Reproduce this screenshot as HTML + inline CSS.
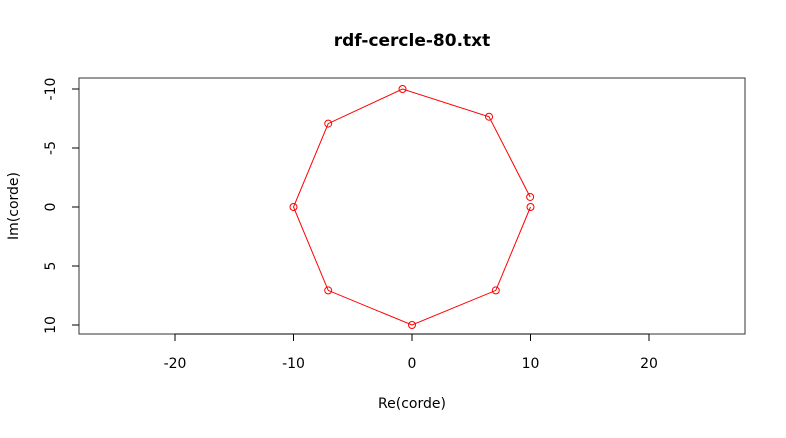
<!DOCTYPE html>
<html><head><meta charset="utf-8"><style>
body{margin:0;background:#fff}
text{font-family:"DejaVu Sans","Liberation Sans",sans-serif;font-size:14px;fill:#000}
</style></head><body>
<svg id="chart" width="786" height="433">
<text x="412" y="46" text-anchor="middle" style="font-size:17px;font-weight:bold">rdf-cercle-80.txt</text>
<rect x="79" y="78" width="666" height="256" fill="none" stroke="#333"/>
<text x="412" y="408" text-anchor="middle">Re(corde)</text>
<text transform="translate(18,206) rotate(-90)" text-anchor="middle">Im(corde)</text>
<g id="axes"></g><g id="series"></g>
</svg>
<script>
const re=[10,7.07,0,-7.07,-10,-7.07,-0.8,6.5,9.97];
const im=[0,7.07,10,7.07,0,-7.07,-10,-7.65,-0.85];
const xTicks=[-20,-10,0,10,20];
const yTicks=[-10,-5,0,5,10];
const X=v=>412+v*11.85, Y=v=>207+v*11.8;
const ns="http://www.w3.org/2000/svg";
const ax=document.getElementById('axes'), se=document.getElementById('series');
function mk(t,a,p){const e=document.createElementNS(ns,t);for(const k in a)e.setAttribute(k,a[k]);p.appendChild(e);return e;}
let l=mk('line',{x1:X(xTicks[0]),x2:X(xTicks[xTicks.length-1]),y1:334,y2:334,stroke:'#000'},ax);


xTicks.forEach(v=>{
 let t=mk('line',{x1:X(v),x2:X(v),y1:334,y2:341,stroke:'#000'},ax);
 
 
 let s=mk('text',{x:X(v),y:368,'text-anchor':'middle'},ax);s.textContent=v;
 
 
});
yTicks.forEach(v=>{
 let t=mk('line',{x1:72,x2:79,y1:Y(v),y2:Y(v),stroke:'#000'},ax);
 
 
 let s=mk('text',{transform:`translate(55,${Y(v)}) rotate(-90)`,'text-anchor':'middle'},ax);s.textContent=v;
 
 
});
let pl=mk('polyline',{points:re.map((v,i)=>X(v)+','+Y(im[i])).join(' '),fill:'none',stroke:'#f00'},se);


re.forEach((v,i)=>{
 let c=mk('circle',{cx:X(v),cy:Y(im[i]),r:3.5,fill:'none',stroke:'#f00'},se);
 
 
});
</script>
</body></html>
